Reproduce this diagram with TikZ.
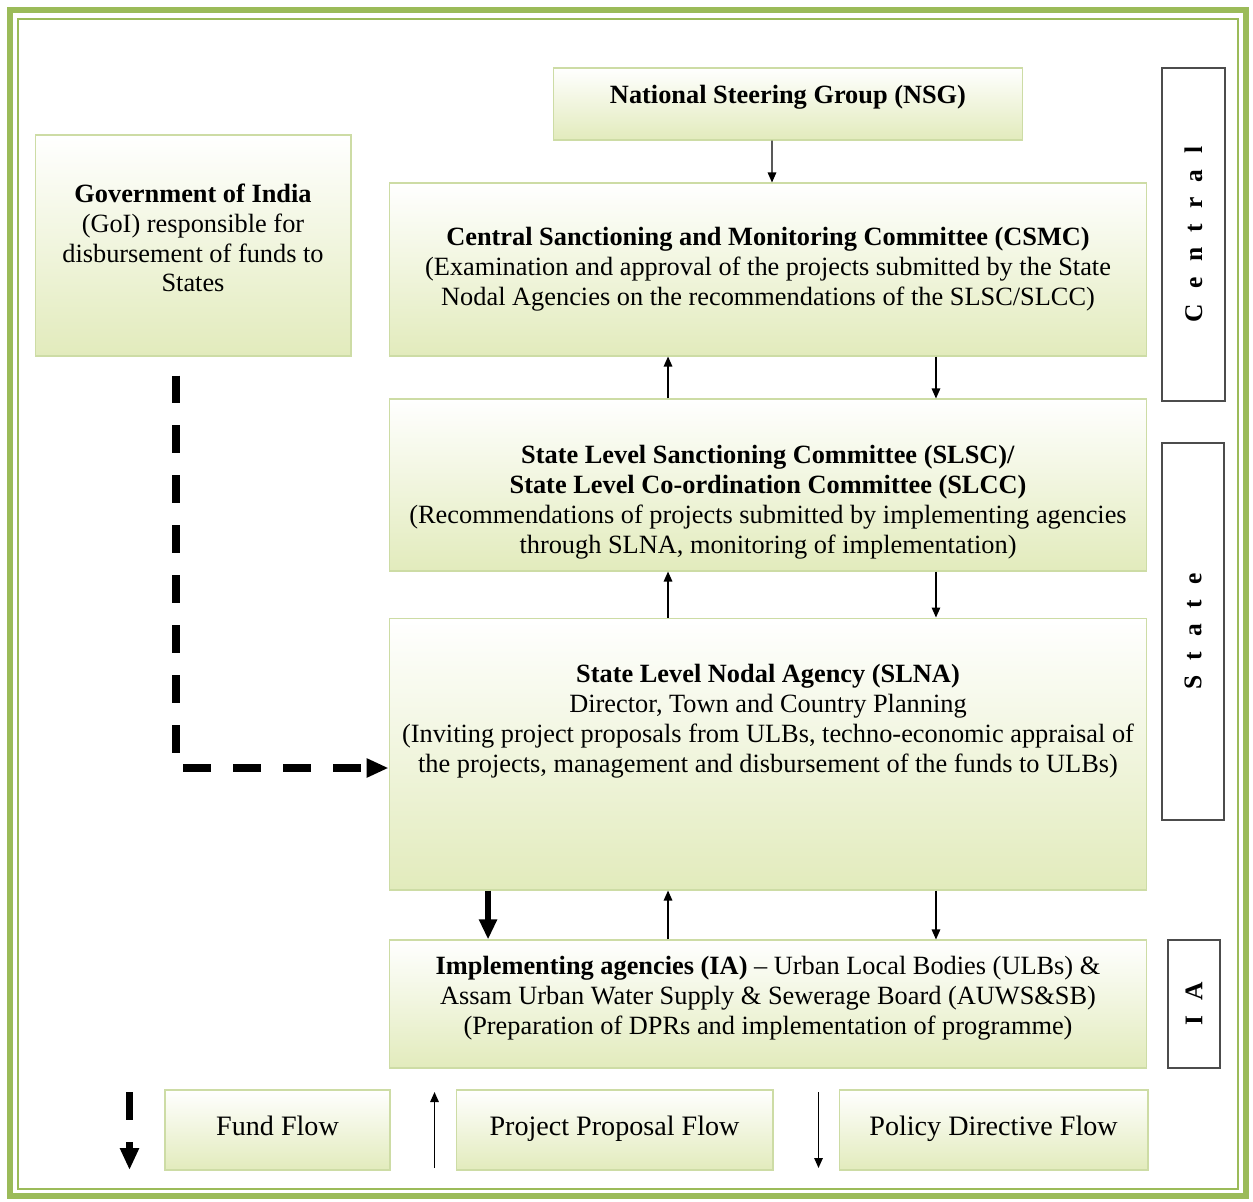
\documentclass[tikz,border=0pt]{standalone}
\usepackage{fontspec}
\setmainfont{Liberation Serif}
\usepackage{xcolor}
\usetikzlibrary{arrows.meta}

\definecolor{framegreen}{RGB}{155,187,89}
\definecolor{boxline}{RGB}{205,220,165}
\definecolor{boxfill}{RGB}{226,235,188}

\tikzset{
  box/.style={draw=boxline, line width=0.6pt, top color=white, bottom color=boxfill, inner sep=0pt, align=center},
  sidebox/.style={draw=black!70, fill=white, line width=0.9pt, rotate=90, inner sep=0pt,
    font=\fontsize{14.5}{17}\selectfont\bfseries\addfontfeature{LetterSpace=60}},
  flow/.style={-{Triangle[length=0.2cm,width=0.17cm]}, line width=0.8pt},
  fund/.style={-{Triangle[length=0.44cm,width=0.36cm]}, line width=4pt, dash pattern=on 0.56cm off 0.44cm},
  fundsolid/.style={-{Triangle[length=0.4cm,width=0.34cm]}, line width=3pt},
  legend/.style={box, minimum height=1.6cm, font=\fontsize{16}{19}\selectfont}
}

\begin{document}
\begin{tikzpicture}[x=0.02cm, y=-0.02cm, font=\fontsize{15}{17}\selectfont]
  \useasboundingbox (0,0) rectangle (1253,1202);
  % outer frame
  \draw[framegreen, line width=0.13cm] (10,10) rectangle (1246,1196);
  \draw[framegreen, line width=0.04cm] (18,19) rectangle (1238,1189);

  % boxes
  \node[box, minimum width=9.4cm, minimum height=1.44cm] (nsg) at (788,104) {};
  \node (nsgtext) at (788,97) {\textbf{National Steering Group (NSG)}};
  \node[box, minimum width=6.32cm, minimum height=4.42cm] (goi) at (193,245.5) {};
  \node[align=center] (goitext) at (193,238)
    {\textbf{Government of India}\\(GoI) responsible for\\disbursement of funds to\\States};
  \node[box, minimum width=15.16cm, minimum height=3.46cm] (csmc) at (768,269.5)
    {\textbf{Central Sanctioning and Monitoring Committee (CSMC)}\\
     (Examination and approval of the projects submitted by the State\\
     Nodal Agencies on the recommendations of the SLSC/SLCC)};
  \node[box, minimum width=15.16cm, minimum height=3.44cm] (slsc) at (768,485) {};
  \node[align=center] (slsctext) at (768,502)
    {\textbf{State Level Sanctioning Committee (SLSC)/}\\
     \textbf{State Level Co-ordination Committee (SLCC)}\\
     (Recommendations of projects submitted by implementing agencies\\
     through SLNA, monitoring of implementation)};
  \node[box, minimum width=15.16cm, minimum height=5.44cm] (slna) at (768,754) {};
  \node[align=center] (slnatext) at (768,721)
    {\textbf{State Level Nodal Agency (SLNA)}\\
     Director, Town and Country Planning\\
     (Inviting project proposals from ULBs, techno-economic appraisal of\\
     the projects, management and disbursement of the funds to ULBs)};
  \node[box, minimum width=15.16cm, minimum height=2.56cm] (ia) at (768,1004) {};
  \node[align=center] (iatext) at (768,998)
    {\textbf{Implementing agencies (IA)} -- Urban Local Bodies (ULBs) \&\\
     Assam Urban Water Supply \& Sewerage Board (AUWS\&SB)\\
     (Preparation of DPRs and implementation of programme)};

  % levels
  \node[sidebox, minimum width=6.66cm, minimum height=1.26cm] (central) at (1193.5,234.5) {Central\hspace{-0.6em}};
  \node[sidebox, minimum width=7.54cm, minimum height=1.24cm] (state) at (1193,631.5) {State\hspace{-0.6em}};
  \node[sidebox, minimum width=2.56cm, minimum height=1.04cm] (ialevel) at (1194,1004) {IA\hspace{-0.6em}};

  % legend
  \node[legend, minimum width=4.5cm] (fundkey) at (277.5,1130) {\raisebox{0.18cm}{Fund Flow}};
  \node[legend, minimum width=6.34cm] (propkey) at (614.5,1130) {\raisebox{0.18cm}{Project Proposal Flow}};
  \node[legend, minimum width=6.18cm] (polkey) at (993.5,1130) {\raisebox{0.18cm}{Policy Directive Flow}};

  % flows
  \draw[flow] ([xshift=-0.32cm]nsg.south) -- ([xshift=0.08cm]csmc.north);
  \draw[flow] ([xshift=-2cm]slsc.north) -- ([xshift=-2cm]csmc.south);
  \draw[flow] ([xshift=3.36cm]csmc.south) -- ([xshift=3.36cm]slsc.north);
  \draw[flow] ([xshift=-2cm]slna.north) -- ([xshift=-2cm]slsc.south);
  \draw[flow] ([xshift=3.36cm]slsc.south) -- ([xshift=3.36cm]slna.north);
  \draw[fundsolid] ([xshift=-5.6cm]slna.south) -- ([xshift=-5.6cm]ia.north);
  \draw[flow] ([xshift=-2cm]ia.north) -- ([xshift=-2cm]slna.south);
  \draw[flow] ([xshift=3.36cm]slna.south) -- ([xshift=3.36cm]ia.north);
  \draw[fund] ([xshift=-0.34cm,yshift=-0.38cm]goi.south) |- ([yshift=-0.28cm]slna.west);

  % legend arrows
  \draw[fund] ([xshift=-0.7cm,yshift=0.76cm]fundkey.west) -- ([xshift=-0.7cm,yshift=-0.8cm]fundkey.west);
  \draw[flow] ([xshift=-0.42cm,yshift=-0.76cm]propkey.west) -- ([xshift=-0.42cm,yshift=0.76cm]propkey.west);
  \draw[flow] ([xshift=-0.4cm,yshift=0.76cm]polkey.west) -- ([xshift=-0.4cm,yshift=-0.76cm]polkey.west);
\end{tikzpicture}
\end{document}
